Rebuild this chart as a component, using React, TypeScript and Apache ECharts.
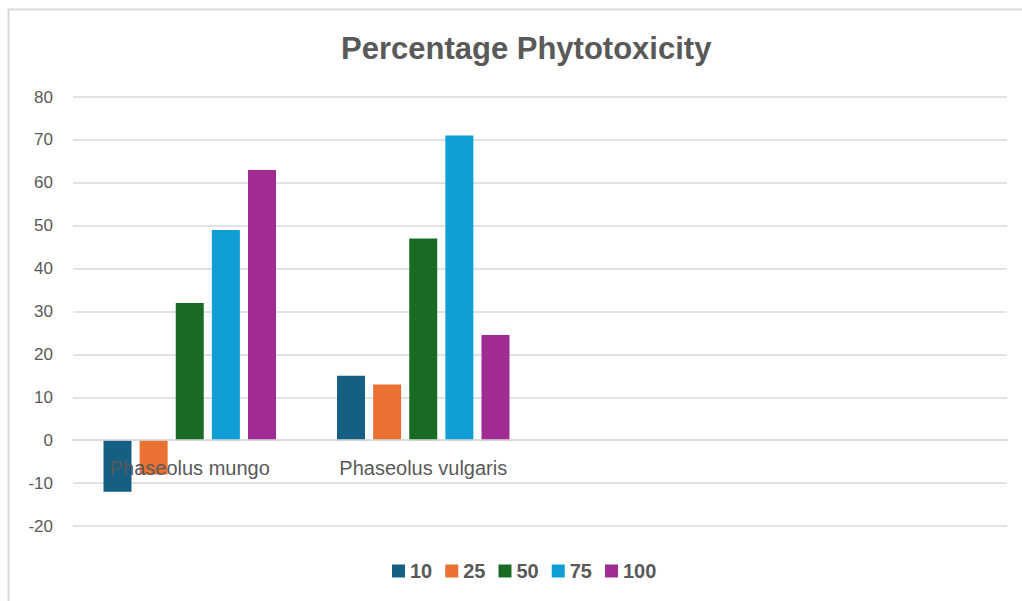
import React, { useEffect, useRef } from "react";
import * as echarts from "echarts";

const categories = ["Phaseolus mungo", "Phaseolus vulgaris", "", ""];
const seriesNames = ["10", "25", "50", "75", "100"];
const values10 = [-12, 15];
const values25 = [-8, 13];
const values50 = [32, 47];
const values75 = [49, 71];
const values100 = [63, 24.5];
const colors = ["#156082", "#E97132", "#196B24", "#0F9ED5", "#A02B93"];

const allValues = [values10, values25, values50, values75, values100];

export default function App() {
  const ref = useRef<HTMLDivElement>(null);
  useEffect(() => {
    if (!ref.current) return;
    const chart = echarts.init(ref.current, null, { renderer: "svg" });
    chart.setOption({
      animation: false,
      backgroundColor: "#ffffff",
      title: {
        text: "Percentage Phytotoxicity",
        left: 336,
        top: 28,
        textStyle: {
          fontFamily: "Liberation Sans, Arial, sans-serif",
          fontSize: 31,
          fontWeight: "bold",
          color: "#595959",
        },
      },
      graphic: [
        {
          type: "polyline",
          shape: { points: [[8.5, 601], [8.5, 9.5], [1022, 9.5]] },
          style: { stroke: "#d9d9d9", lineWidth: 2, fill: "none" },
          silent: true,
        },
      ],
      legend: {
        bottom: 15,
        left: 387,
        itemWidth: 13,
        itemHeight: 13,
        itemGap: 13,
        icon: "rect",
        textStyle: {
          fontFamily: "Liberation Sans, Arial, sans-serif",
          fontSize: 20,
          fontWeight: "bold",
          color: "#595959",
        },
        data: seriesNames,
      },
      grid: { left: 73, right: 15, top: 97, bottom: 75, containLabel: false },
      xAxis: {
        type: "category",
        data: categories,
        z: 10,
        offset: -85.8,
        axisLine: { onZero: false, lineStyle: { color: "#d9d9d9", width: 1.5 } },
        axisTick: { show: false },
        axisLabel: {
          margin: 18,
          fontFamily: "Liberation Sans, Arial, sans-serif",
          fontSize: 20,
          color: "#595959",
          interval: 0,
        },
      },
      yAxis: {
        type: "value",
        min: -20,
        max: 80,
        interval: 10,
        axisLine: { show: false },
        axisTick: { show: false },
        splitLine: { lineStyle: { color: "#d9d9d9", width: 1.5 } },
        axisLabel: {
          margin: 20,
          fontFamily: "Liberation Sans, Arial, sans-serif",
          fontSize: 17,
          color: "#595959",
        },
      },
      series: seriesNames.map((name, i) => ({
        name,
        type: "bar",
        data: allValues[i],
        barWidth: 28,
        barGap: "29%",
        itemStyle: { color: colors[i] },
      })),
    });
    return () => chart.dispose();
  }, []);
  return (
    <div
      ref={ref}
      style={{ position: "fixed", left: 0, top: 0, width: 1022, height: 601 }}
    />
  );
}
